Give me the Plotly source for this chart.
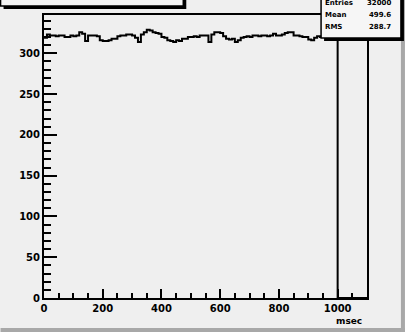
import plotly.graph_objects as go

# ---- data ----
bin_width = 10
counts = [319, 323, 322, 322, 321, 322, 322, 320, 320, 322,
          321, 322, 326, 324, 315, 322, 322, 322, 321, 316,
          315, 315, 316, 318, 318, 321, 322, 322, 323, 323,
          322, 319, 314, 323, 326, 329, 328, 326, 325, 324,
          320, 319, 316, 315, 314, 316, 315, 318, 318, 320,
          320, 321, 320, 322, 322, 322, 314, 323, 326, 326,
          325, 321, 318, 317, 318, 314, 316, 319, 320, 321,
          320, 322, 322, 321, 322, 322, 321, 322, 324, 322,
          322, 323, 325, 326, 326, 322, 322, 321, 320, 320,
          317, 316, 319, 321, 320, 322, 321, 320, 321, 320,
          0, 0, 0, 0, 0, 0, 0, 0, 0, 0]
stat_labels = ["Entries", "Mean", "RMS"]
stat_values = ["32000", "499.6", "288.7"]
x_title = "msec"
x_range = [0, 1100]
y_range = [0, 347]

edges = [i * bin_width for i in range(len(counts))]
xs = edges + [len(counts) * bin_width]
ys = counts + [counts[-1]]

W, H = 405, 332
L, R, T, B = 43.5, 367, 15, 298
BG = "#efefef"
FONT = "DejaVu Sans"


def px(x):
    return (x - L) / (R - L)


def py(y):
    return (B - y) / (B - T)


fig = go.Figure()
fig.add_trace(go.Scatter(x=xs, y=ys, mode="lines", line_shape="hv",
                         line=dict(color="black", width=2), hoverinfo="skip",
                         showlegend=False))

shapes = []
annotations = []

# canvas bevel (bottom / right darker)
shapes.append(dict(type="rect", xref="paper", yref="paper",
                   x0=px(0), x1=px(W), y0=py(H), y1=py(H - 4),
                   fillcolor="#a8a8a8", line=dict(width=0), layer="above"))
shapes.append(dict(type="rect", xref="paper", yref="paper",
                   x0=px(W - 4), x1=px(W), y0=py(H), y1=py(0),
                   fillcolor="#a8a8a8", line=dict(width=0), layer="above"))

# title box (mostly off the top)
shapes.append(dict(type="rect", xref="paper", yref="paper",
                   x0=px(3), x1=px(186), y0=py(9), y1=py(-10),
                   fillcolor="black", line=dict(width=0), layer="above"))
shapes.append(dict(type="rect", xref="paper", yref="paper",
                   x0=px(0), x1=px(183), y0=py(6), y1=py(-12),
                   fillcolor="#f6f6f6", line=dict(color="black", width=1.5),
                   layer="above"))

# stats box
shapes.append(dict(type="rect", xref="paper", yref="paper",
                   x0=px(324), x1=px(404), y0=py(41), y1=py(-10),
                   fillcolor="black", line=dict(width=0), layer="above"))
shapes.append(dict(type="rect", xref="paper", yref="paper",
                   x0=px(321), x1=px(401), y0=py(38), y1=py(-12),
                   fillcolor="#f6f6f6", line=dict(color="black", width=1.5),
                   layer="above"))
row_y = [3, 15, 27]
for lab, val, yy in zip(stat_labels, stat_values, row_y):
    annotations.append(dict(xref="paper", yref="paper", x=px(323), y=py(yy),
                            text="<b>" + lab + "</b>", showarrow=False,
                            xanchor="left", yanchor="middle",
                            font=dict(family=FONT, size=7, color="black")))
    annotations.append(dict(xref="paper", yref="paper", x=px(393), y=py(yy),
                            text="<b>" + val + "</b>", showarrow=False,
                            xanchor="right", yanchor="middle",
                            font=dict(family=FONT, size=7, color="black")))

annotations.append(dict(xref="paper", yref="paper", x=px(364), y=py(321),
                        text="<b>" + x_title + "</b>", showarrow=False,
                        xanchor="right", yanchor="middle",
                        font=dict(family=FONT, size=9, color="black")))

fig.update_layout(
    width=W, height=H,
    margin=dict(l=L, r=W - R, t=T, b=H - B, pad=0),
    paper_bgcolor=BG, plot_bgcolor=BG,
    shapes=shapes, annotations=annotations,
    xaxis=dict(range=x_range, tickmode="array",
               tickvals=[0, 200, 400, 600, 800, 1000],
               ticktext=["<b>0</b>", "<b>200</b>", "<b>400</b>", "<b>600</b>",
                         "<b>800</b>", "<b>1000</b>"],
               ticks="inside", ticklen=9, tickwidth=1.5, tickcolor="black",
               minor=dict(dtick=50, tick0=0, ticks="inside", ticklen=5,
                          tickwidth=1.5, tickcolor="black"),
               showgrid=False, zeroline=False, showline=True, linecolor="black",
               linewidth=2, mirror=True, automargin=False,
               tickfont=dict(family=FONT, size=10, color="black")),
    yaxis=dict(range=y_range, tickmode="array",
               tickvals=[0, 50, 100, 150, 200, 250, 300],
               ticktext=["<b>0</b>", "<b>50</b>", "<b>100</b>", "<b>150</b>",
                         "<b>200</b>", "<b>250</b>", "<b>300</b>"],
               ticks="inside", ticklen=13, tickwidth=1.5, tickcolor="black",
               minor=dict(dtick=10, tick0=0, ticks="inside", ticklen=7,
                          tickwidth=1.5, tickcolor="black"),
               showgrid=False, zeroline=False, showline=True, linecolor="black",
               linewidth=2, mirror=True, automargin=False,
               tickfont=dict(family=FONT, size=10, color="black")),
)

fig.write_html("out.html", config={"displayModeBar": False},
               post_script="document.body.style.margin='0';"
                           "document.body.style.overflow='hidden';")
